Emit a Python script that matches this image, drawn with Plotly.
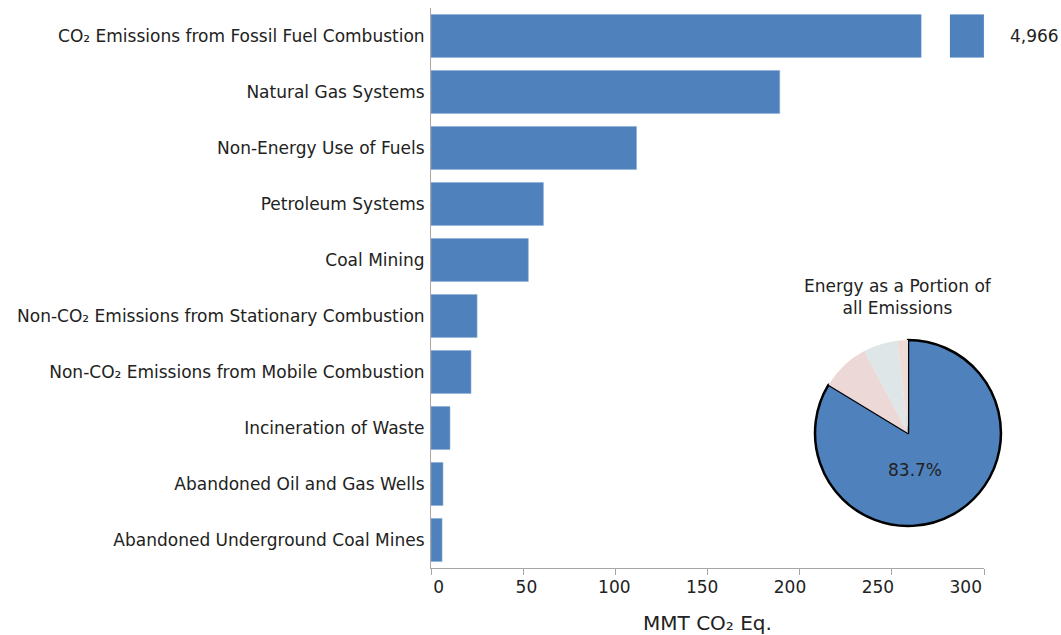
import plotly.graph_objects as go

categories = [
    "CO₂ Emissions from Fossil Fuel Combustion",
    "Natural Gas Systems",
    "Non-Energy Use of Fuels",
    "Petroleum Systems",
    "Coal Mining",
    "Non-CO₂ Emissions from Stationary Combustion",
    "Non-CO₂ Emissions from Mobile Combustion",
    "Incineration of Waste",
    "Abandoned Oil and Gas Wells",
    "Abandoned Underground Coal Mines",
]
values = [4966, 189.2, 111.5, 61.0, 52.8, 25.0, 21.7, 10.3, 6.5, 6.0]
x_ticks = [0, 50, 100, 150, 200, 250, 300]

pie_labels = ["Energy", "Agriculture", "Industrial Processes", "Waste"]
pie_values = [83.7, 8.5, 6.0, 1.8]
pie_colors = ["#4f81bd", "#ecd8d6", "#dee6e8", "#f0dcd6"]

XMAX = 300
BREAK_START, BREAK_END = 266, 281.5
FONT = "DejaVu Sans"
TXT = "#222222"
FS = 17
AXIS_GREY = "#a6a6a6"

shown = [min(v, XMAX) for v in values]

fig = go.Figure()
fig.add_trace(go.Bar(
    x=shown, y=categories, orientation="h",
    marker=dict(color="#4f81bd", line=dict(color="#8fb0d8", width=0.6)),
    hoverinfo="skip", showlegend=False,
))
# invisible helper trace so the label axis is drawn
fig.add_trace(go.Scatter(x=[x_ticks[0]], y=[categories[0]], xaxis="x2", yaxis="y",
                         mode="markers", marker=dict(opacity=0), hoverinfo="skip",
                         showlegend=False))

fig.add_trace(go.Pie(
    labels=pie_labels, values=pie_values, sort=False, direction="clockwise",
    rotation=0, textinfo="none", hoverinfo="skip", showlegend=False,
    marker=dict(colors=pie_colors,
                line=dict(color=["#000000", "rgba(0,0,0,0)", "rgba(0,0,0,0)", "rgba(0,0,0,0)"],
                          width=[2.5, 0, 0, 0])),
    domain=dict(x=[0.6295, 0.9344], y=[0.075, 0.407]),
))

# axis break on the first bar
fig.add_shape(type="rect", xref="x", yref="y", x0=BREAK_START, x1=BREAK_END,
              y0=-0.45, y1=0.45, fillcolor="white", line=dict(width=0), layer="above")

fig.add_annotation(x=XMAX, y=categories[0], xref="x", yref="y", text=f"{values[0]:,}",
                   showarrow=False, xanchor="left", xshift=24,
                   font=dict(family=FONT, size=FS, color=TXT))
fig.add_annotation(x=0.765, y=0.484, xref="paper", yref="paper",
                   text="Energy as a Portion of<br>all Emissions", showarrow=False,
                   xanchor="center", yanchor="middle",
                   font=dict(family=FONT, size=FS, color=TXT))
fig.add_annotation(x=0.7934, y=0.175, xref="paper", yref="paper",
                   text=f"{pie_values[0]}%", showarrow=False,
                   xanchor="center", yanchor="middle",
                   font=dict(family=FONT, size=FS, color=TXT))

DOM = [0, 553 / 610]
fig.update_layout(
    width=1061, height=635,
    margin=dict(l=431, r=20, t=8, b=67, autoexpand=False),
    paper_bgcolor="white", plot_bgcolor="white",
    bargap=0.23,
    font=dict(family=FONT, size=FS, color=TXT),
    xaxis=dict(domain=DOM, range=[0, XMAX], tickvals=x_ticks, showticklabels=False,
               showgrid=False, zeroline=False, showline=True, linecolor=AXIS_GREY, linewidth=1,
               ticks="outside", ticklen=6, tickcolor=AXIS_GREY, automargin=False),
    xaxis2=dict(domain=DOM, overlaying="x", anchor="y", side="bottom",
                range=[-4.3, 310.4], tickvals=x_ticks, showgrid=False, zeroline=False,
                showline=False, ticks="", ticklabelstandoff=7, automargin=False,
                title=dict(text="MMT CO₂ Eq.", standoff=20), tickfont=dict(size=FS)),
    yaxis=dict(range=[len(categories) - 0.5, -0.5], autorange=False, showgrid=False,
               zeroline=False, showline=True, linecolor=AXIS_GREY, linewidth=1, ticks="",
               ticklabelstandoff=2, tickfont=dict(size=FS), automargin=False),
)

fig.write_html("out.html", config={"displayModeBar": False},
               post_script="document.body.style.margin='0';")
